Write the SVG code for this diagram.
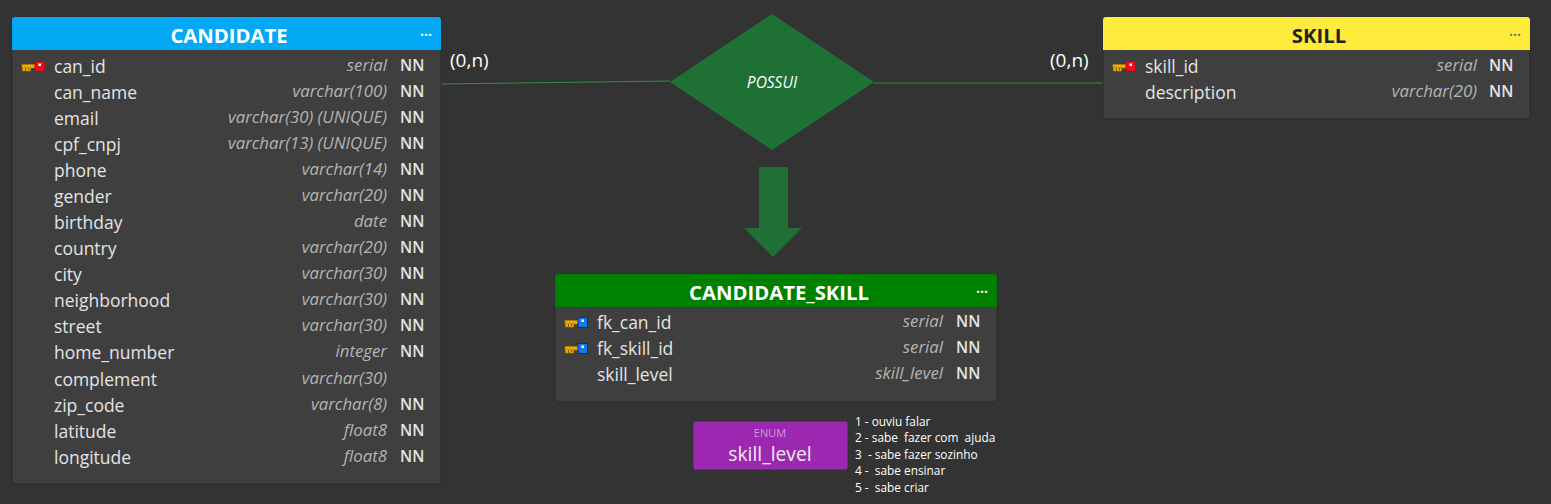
<svg xmlns="http://www.w3.org/2000/svg" width="1551" height="504" viewBox="0 0 1551 504">
<style>
text{font-family:"Open Sans","Noto Sans","Liberation Sans",sans-serif}
.body{fill:#3f3f3f;stroke:#2a2a2a;stroke-width:1}
.title{font-size:20.300px;font-weight:700;fill:#fff;text-anchor:middle}
.n{font-size:17.500px;fill:#e4e4e4;transform:translateY(0.800px)}
.t{font-size:16.800px;font-style:italic;fill:#b4b4b4;text-anchor:end}
.nn{font-size:15.500px;font-weight:600;fill:#e4e4e4}
.dots{font-size:14px;font-weight:700;fill:#fff;text-anchor:middle}
.card{font-size:19px;fill:#fff}
.note{font-size:11.850px;fill:#fff;white-space:pre}
.link{stroke:#2fa84a;stroke-width:0.800;fill:none}
</style>
<defs>
<g id="key"><rect x="0" y="2.500" width="13" height="3.500" fill="#f0ac00" stroke="#b87f00" stroke-width=".6"/><rect x="0.500" y="5.500" width="8" height="3.500" fill="#f0ac00" stroke="#b87f00" stroke-width=".6"/><rect x="3" y="6" width="1" height="3" fill="#7a5a10"/><rect x="6" y="6" width="1" height="2" fill="#7a5a10"/></g>
<g id="pk"><use href="#key"/><rect x="13" y="-0.500" width="9.500" height="10" fill="#e8101c" stroke="#a80c14" stroke-width=".8"/><rect x="16.500" y="1.500" width="2.500" height="2.500" fill="#fff"/></g>
<g id="fk"><use href="#key"/><rect x="13" y="-0.500" width="9.500" height="10" fill="#1479e6" stroke="#0a2a8c" stroke-width="1"/><rect x="16.500" y="1.500" width="2.500" height="2.500" fill="#fff"/></g>
</defs>
<rect width="1551" height="504" fill="#333333"/>
<g id="connectors">
<path class="link" d="M441 84L670 81"/>
<path class="link" d="M874 83L1103 83"/>
</g>
<g id="labels">
<text class="card" x="450" y="67">(0,n)</text>
<text class="card" x="1050" y="67">(0,n)</text>
</g>
<g id="possui">
<polygon points="772,14 874,82 772,150 670,82" fill="#1f7035"/>
<text x="772" y="88" font-size="15.500" font-style="italic" fill="#fff" text-anchor="middle">POSSUI</text>
</g>
<g id="arrow">
<polygon points="759,167 788,167 788,228 802,228 773,257 744,228 759,228" fill="#1f7035"/>
</g>
<g id="candidate">
<rect class="body" x="12" y="17" width="429" height="467" rx="3"/>
<path d="M12 50V20a3 3 0 0 1 3-3H438a3 3 0 0 1 3 3V50Z" fill="#03a9f4"/>
<text class="title" x="229" y="43">CANDIDATE</text>
<text class="dots" x="426" y="36">...</text>
<use href="#pk" x="22" y="62"/>
<text class="n" x="54" y="72">can_id</text><text class="t" x="387" y="71">serial</text><text class="nn" x="400" y="71">NN</text>
<text class="n" x="54" y="98">can_name</text><text class="t" x="387" y="97">varchar(100)</text><text class="nn" x="400" y="97">NN</text>
<text class="n" x="54" y="124">email</text><text class="t" x="387" y="123">varchar(30) (UNIQUE)</text><text class="nn" x="400" y="123">NN</text>
<text class="n" x="54" y="150">cpf_cnpj</text><text class="t" x="387" y="149">varchar(13) (UNIQUE)</text><text class="nn" x="400" y="149">NN</text>
<text class="n" x="54" y="176">phone</text><text class="t" x="387" y="175">varchar(14)</text><text class="nn" x="400" y="175">NN</text>
<text class="n" x="54" y="202">gender</text><text class="t" x="387" y="201">varchar(20)</text><text class="nn" x="400" y="201">NN</text>
<text class="n" x="54" y="228">birthday</text><text class="t" x="387" y="227">date</text><text class="nn" x="400" y="227">NN</text>
<text class="n" x="54" y="254">country</text><text class="t" x="387" y="253">varchar(20)</text><text class="nn" x="400" y="253">NN</text>
<text class="n" x="54" y="280">city</text><text class="t" x="387" y="279">varchar(30)</text><text class="nn" x="400" y="279">NN</text>
<text class="n" x="54" y="306">neighborhood</text><text class="t" x="387" y="305">varchar(30)</text><text class="nn" x="400" y="305">NN</text>
<text class="n" x="54" y="332">street</text><text class="t" x="387" y="331">varchar(30)</text><text class="nn" x="400" y="331">NN</text>
<text class="n" x="54" y="358">home_number</text><text class="t" x="387" y="357">integer</text><text class="nn" x="400" y="357">NN</text>
<text class="n" x="54" y="385">complement</text><text class="t" x="387" y="384">varchar(30)</text>
<text class="n" x="54" y="411">zip_code</text><text class="t" x="387" y="410">varchar(8)</text><text class="nn" x="400" y="410">NN</text>
<text class="n" x="54" y="437">latitude</text><text class="t" x="387" y="436">float8</text><text class="nn" x="400" y="436">NN</text>
<text class="n" x="54" y="463">longitude</text><text class="t" x="387" y="462">float8</text><text class="nn" x="400" y="462">NN</text>
</g>
<g id="skill">
<rect class="body" x="1103" y="17" width="427" height="102" rx="3"/>
<path d="M1103 50V20a3 3 0 0 1 3-3H1527a3 3 0 0 1 3 3V50Z" fill="#ffeb3b"/>
<text class="title" x="1319" y="43" style="fill:#222">SKILL</text>
<text class="dots" x="1515" y="36" style="fill:#777">...</text>
<use href="#pk" x="1113" y="62"/>
<text class="n" x="1145" y="72">skill_id</text><text class="t" x="1477" y="71">serial</text><text class="nn" x="1489" y="71">NN</text>
<text class="n" x="1145" y="98">description</text><text class="t" x="1477" y="97">varchar(20)</text><text class="nn" x="1489" y="97">NN</text>
</g>
<g id="candidate_skill">
<rect class="body" x="555" y="274" width="442" height="128" rx="3"/>
<path d="M555 307V277a3 3 0 0 1 3-3H994a3 3 0 0 1 3 3V307Z" fill="#008000"/>
<text class="title" x="779" y="300">CANDIDATE_SKILL</text>
<text class="dots" x="982" y="293">...</text>
<use href="#fk" x="565" y="318"/>
<text class="n" x="597" y="328">fk_can_id</text><text class="t" x="943" y="327">serial</text><text class="nn" x="956" y="327">NN</text>
<use href="#fk" x="565" y="344"/>
<text class="n" x="597" y="354">fk_skill_id</text><text class="t" x="943" y="353">serial</text><text class="nn" x="956" y="353">NN</text>
<text class="n" x="597" y="380">skill_level</text><text class="t" x="943" y="379">skill_level</text><text class="nn" x="956" y="379">NN</text>
</g>
<g id="enum_skill_level">
<rect x="693.500" y="421.500" width="154" height="48" rx="2" fill="#9c27b0"/>
<text x="770" y="437" font-size="11" fill="#cf9ad8" text-anchor="middle">ENUM</text>
<text x="770" y="461" font-size="19.300" fill="#eee" text-anchor="middle">skill_level</text>
</g>
<g id="note">
<text class="note" x="855" y="426">1 - ouviu falar</text>
<text class="note" x="855" y="442">2 - sabe  fazer com  ajuda</text>
<text class="note" x="855" y="459">3  - sabe fazer sozinho</text>
<text class="note" x="855" y="475">4 -  sabe ensinar</text>
<text class="note" x="855" y="492">5 -  sabe criar</text>
</g>
</svg>
